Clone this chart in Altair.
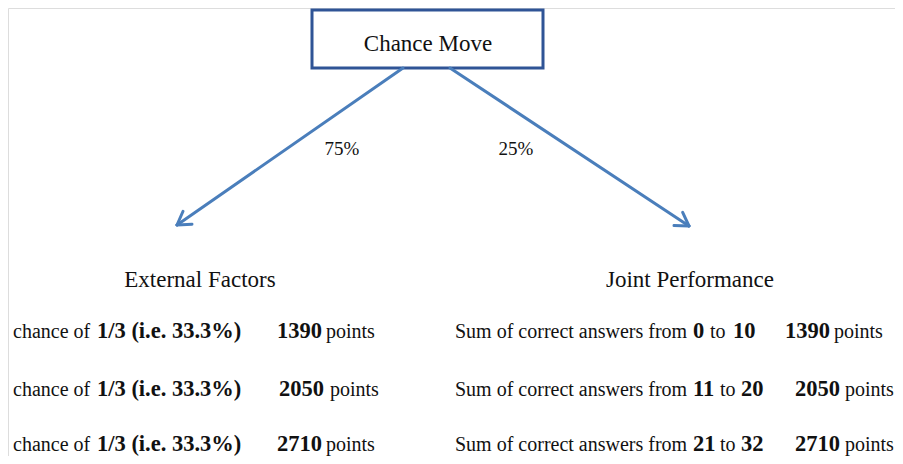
import altair as alt
import numpy as np
import pandas as pd

# ---------------- data ----------------
root_label = "Chance Move"
branch_probs = ["75%", "25%"]
branch_titles = ["External Factors", "Joint Performance"]
ext_prefix = "chance of"
ext_chance = ["1/3 (i.e. 33.3%)", "1/3 (i.e. 33.3%)", "1/3 (i.e. 33.3%)"]
points = [1390, 2050, 2710]
range_lo = [0, 11, 21]
range_hi = [10, 20, 32]
joint_prefix = "Sum of correct answers from"
unit = "points"

# ---------------- layout (pixel positions on the page) ----------------
W, H, M = 903, 464, 8
FONT = "Liberation Serif"
REG, BOLD = 20, 22.5
BOX = dict(x=312, x2=543, y=10, y2=68)
ARROW_START = [(403, 68), (450, 68)]
ARROW_END = [(177, 225), (689, 226)]
PROB_POS = [(342, 155), (516, 155)]
TITLE_POS = [(200, 287), (690, 287)]
ROW_Y = [338, 396, 451]
L_X = dict(prefix=13, chance=97, pts=[277, 279, 277], unit=[326, 330, 326])
R_X = dict(prefix=455, lo=693, to=[710, 720, 720], hi=[733, 741, 741],
           pts=[785, 795, 795], unit=[834, 845, 845])

xs = alt.Scale(domain=[M, W - M], nice=False, zero=False)
ys = alt.Scale(domain=[M, H - M], nice=False, zero=False, reverse=True)
X = lambda f: alt.X(f, type="quantitative", scale=xs, axis=None)
Y = lambda f: alt.Y(f, type="quantitative", scale=ys, axis=None)

# box
box_df = pd.DataFrame([BOX])
box = alt.Chart(box_df).mark_rect(fill="white", stroke="#2F5496", strokeWidth=3).encode(
    x=X("x"), x2="x2", y=Y("y"), y2="y2")

# arrows (shaft + open head)
segs = []
for (sx, sy), (ex, ey) in zip(ARROW_START, ARROW_END):
    segs.append(dict(x=sx, y=sy, x2=ex, y2=ey))
    ang = np.arctan2(sy - ey, sx - ex)
    for d in (0.55, -0.55):
        segs.append(dict(x=ex, y=ey, x2=ex + 15 * np.cos(ang + d), y2=ey + 15 * np.sin(ang + d)))
arrows = alt.Chart(pd.DataFrame(segs)).mark_rule(
    color="#4A7EBB", strokeWidth=3, strokeCap="round").encode(
    x=X("x"), x2="x2", y=Y("y"), y2="y2")

# text segments
rows = []
rows.append(dict(t=root_label, x=428, y=51, w="normal", s=23, a="center"))
for p, (px, py) in zip(branch_probs, PROB_POS):
    rows.append(dict(t=p, x=px, y=py, w="normal", s=19, a="center"))
for t, (tx, ty) in zip(branch_titles, TITLE_POS):
    rows.append(dict(t=t, x=tx, y=ty, w="normal", s=23, a="center"))
for i, y in enumerate(ROW_Y):
    rows += [
        dict(t=ext_prefix, x=L_X["prefix"], y=y, w="normal", s=REG, a="left"),
        dict(t=ext_chance[i], x=L_X["chance"], y=y, w="bold", s=BOLD, a="left"),
        dict(t=str(points[i]), x=L_X["pts"][i], y=y, w="bold", s=BOLD, a="left"),
        dict(t=unit, x=L_X["unit"][i], y=y, w="normal", s=REG, a="left"),
        dict(t=joint_prefix, x=R_X["prefix"], y=y, w="normal", s=REG, a="left"),
        dict(t=str(range_lo[i]), x=R_X["lo"], y=y, w="bold", s=BOLD, a="left"),
        dict(t="to", x=R_X["to"][i], y=y, w="normal", s=REG, a="left"),
        dict(t=str(range_hi[i]), x=R_X["hi"][i], y=y, w="bold", s=BOLD, a="left"),
        dict(t=str(points[i]), x=R_X["pts"][i], y=y, w="bold", s=BOLD, a="left"),
        dict(t=unit, x=R_X["unit"][i], y=y, w="normal", s=REG, a="left"),
    ]
tdf = pd.DataFrame(rows)

layers = [box, arrows]
for (w, s, a), g in tdf.groupby(["w", "s", "a"]):
    layers.append(
        alt.Chart(g).mark_text(font=FONT, fontWeight=w, fontSize=s, align=a,
                               baseline="alphabetic", color="#111111").encode(
            x=X("x"), y=Y("y"), text="t:N"))

chart = alt.layer(*layers).properties(
    width=W - 2 * M, height=H - 2 * M, padding=0,
    autosize=alt.AutoSizeParams(type="none"),
).configure_view(stroke=None).configure(background="white")

chart.save("out.html", embed_options={"renderer": "svg", "actions": False})
